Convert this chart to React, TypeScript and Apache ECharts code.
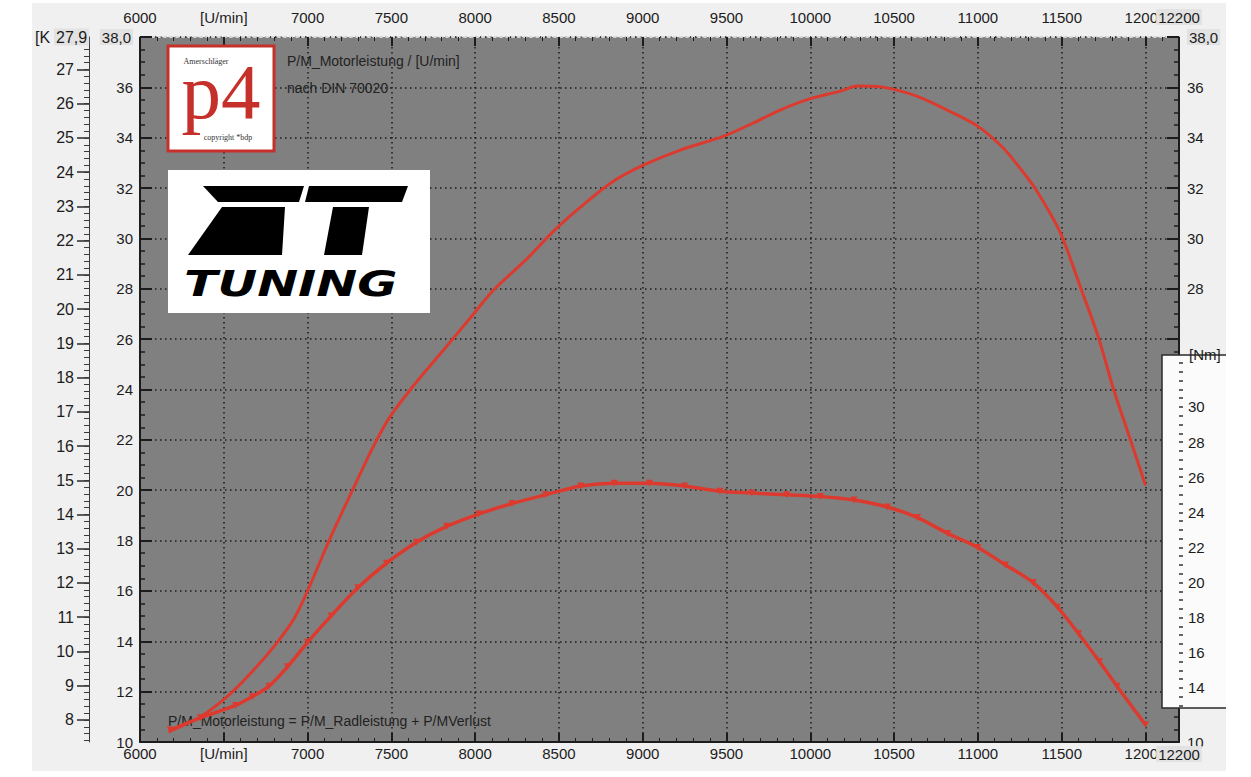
import React, { useEffect, useRef } from "react";
import * as echarts from "echarts";

// ---- data ----
const powerRpm = [6170, 6360, 6520, 6670, 6800, 6915, 7000, 7135, 7275, 7390, 7490, 7650, 7790, 7990, 8110, 8310, 8470, 8630, 8820, 9000, 9220, 9480, 9680, 9820, 10000, 10180, 10280, 10440, 10635, 10830, 11000, 11150, 11250, 11340, 11490, 11610, 11720, 11810, 11905, 12000];
const powerPS = [10.4, 11.0, 11.8, 12.8, 13.8, 14.85, 16.0, 18.1, 20.1, 21.7, 22.9, 24.3, 25.4, 27.0, 27.95, 29.2, 30.3, 31.25, 32.25, 32.9, 33.5, 34.05, 34.65, 35.1, 35.55, 35.85, 36.05, 36.0, 35.65, 35.05, 34.45, 33.6, 32.8, 32.0, 30.25, 28.1, 26.05, 24.0, 22.1, 20.2];

const torqueRpm = [6180, 6360, 6570, 6670, 6770, 6880, 7000, 7140, 7300, 7470, 7650, 7830, 8020, 8220, 8420, 8630, 8830, 9040, 9250, 9460, 9650, 9860, 10060, 10260, 10460, 10640, 10820, 11000, 11165, 11330, 11475, 11600, 11725, 11830, 12000];
const torqueNm = [11.6, 12.3, 13.0, 13.5, 14.1, 15.2, 16.6, 18.1, 19.7, 21.1, 22.3, 23.2, 23.9, 24.5, 25.0, 25.5, 25.66, 25.66, 25.5, 25.2, 25.1, 25.0, 24.9, 24.7, 24.3, 23.7, 22.8, 22.0, 21.0, 20.0, 18.6, 17.1, 15.5, 14.1, 11.9];

const xLabelValues = [6000, 6500, 7000, 7500, 8000, 8500, 9000, 9500, 10000, 10500, 11000, 11500, 12000];
const xEndLabel = [12200];
const psLeftLabels = [10, 12, 14, 16, 18, 20, 22, 24, 26, 28, 30, 32, 34, 36, 38];
const psRightLabels = [10, 28, 30, 32, 34, 36, 38];
const kwLabels = [8, 9, 10, 11, 12, 13, 14, 15, 16, 17, 18, 19, 20, 21, 22, 23, 24, 25, 26, 27];
const nmLabels = [14, 16, 18, 20, 22, 24, 26, 28, 30];

const X_MIN = 6000;
const X_MAX = 12200;
const PS_MIN = 10;
const PS_MAX = 38;
const KW_PER_PS = 0.7355;
const NM_MIN = 10.92;
const NM_MAX = 51.07;

const RED = "#dc3a2e";
const INK = "#1c1c1c";
const FONT = "Liberation Sans, Arial, sans-serif";

const range = (a: number, b: number, step: number) => {
  const out: number[] = [];
  for (let v = a; v <= b + 1e-9; v += step) out.push(Math.round(v * 1000) / 1000);
  return out;
};

const kwMinorTicks = range(7.4, 27.8, 0.2);
const nmTicks = range(13, 32.5, 0.5);

const rich = { m: { backgroundColor: "#e2e2e2", padding: [1, 2, 0, 2], fontSize: 15, color: INK, fontFamily: FONT } };

const xFormatter = (v: number) => (v === 6500 ? "[U/min]" : String(v));

function buildOption(): any {
  const labelBase = { color: INK, fontSize: 15, fontFamily: FONT, showMaxLabel: true, showMinLabel: true, hideOverlap: false };
  const xMain = {
    type: "value",
    min: X_MIN,
    max: X_MAX,
    interval: 500,
    axisTick: { inside: true, length: 9, lineStyle: { color: INK, width: 2 } },
    minorTick: { show: true, splitNumber: 5, length: 4, lineStyle: { color: INK, width: 1 } },
    axisLabel: { ...labelBase, customValues: xLabelValues, formatter: xFormatter },
  };
  const xEnd = {
    type: "value",
    min: X_MIN,
    max: X_MAX,
    offset: 0,
    axisLine: { show: false },
    axisTick: { show: false },
    splitLine: { show: false },
    axisLabel: { ...labelBase, customValues: xEndLabel, formatter: (v: number) => `{m|${v}}`, rich },
  };
  const maxKw = PS_MAX * KW_PER_PS;
  return {
    animation: false,
    backgroundColor: "#f0f0f0",
    grid: { left: 140, top: 37, width: 1039, height: 705, show: true, backgroundColor: "#808080", borderWidth: 0 },
    xAxis: [
      {
        ...xMain,
        position: "bottom",
        offset: 0,
        axisLine: { show: true, lineStyle: { color: INK, width: 2 } },
        splitLine: { show: true, lineStyle: { color: "#1a1a1a", width: 1.5, type: [1.5, 3.5] } },
        axisLabel: { ...xMain.axisLabel, margin: 4 },
      },
      {
        ...xMain,
        position: "top",
        offset: 0,
        axisLine: { show: true, lineStyle: { color: "#d8d8d8", width: 2, type: [2, 4] } },
        splitLine: { show: false },
        axisLabel: { ...xMain.axisLabel, margin: 12 },
      },
      { ...xEnd, position: "bottom", axisLabel: { ...xEnd.axisLabel, margin: 4 } },
      { ...xEnd, position: "top", axisLabel: { ...xEnd.axisLabel, margin: 12 } },
    ],
    yAxis: [
      {
        type: "value",
        position: "left",
        min: PS_MIN,
        max: PS_MAX,
        interval: 2,
        axisLine: { show: true, lineStyle: { color: INK, width: 2 } },
        axisTick: { inside: true, length: 12, lineStyle: { color: INK, width: 2 } },
        minorTick: { show: true, splitNumber: 4, length: 5, lineStyle: { color: INK, width: 1.5 } },
        splitLine: { show: true, lineStyle: { color: "#1a1a1a", width: 1.5, type: [1.5, 3.5] } },
        axisLabel: {
          ...labelBase,
          customValues: psLeftLabels,
          formatter: (v: number) => (v === 38 ? "{m|38,0}" : String(v)),
          margin: 7,
          rich,
        },
      },
      {
        type: "value",
        position: "left",
        offset: 51,
        min: PS_MIN * KW_PER_PS,
        max: maxKw,
        axisLine: { show: true, lineStyle: { color: "#3a3a3a", width: 1 } },
        axisTick: { show: true, customValues: kwLabels, length: 12, lineStyle: { color: "#2a2a2a", width: 1.5 } },
        splitLine: { show: false },
        axisLabel: { ...labelBase, customValues: kwLabels, margin: 15, fontSize: 16 },
      },
      {
        type: "value",
        position: "left",
        offset: 51,
        min: PS_MIN * KW_PER_PS,
        max: maxKw,
        axisLine: { show: false },
        axisTick: { show: true, customValues: kwMinorTicks, length: 5, lineStyle: { color: "#3a3a3a", width: 1 } },
        splitLine: { show: false },
        axisLabel: { show: false },
      },
      {
        type: "value",
        position: "right",
        offset: 0,
        min: PS_MIN,
        max: PS_MAX,
        interval: 2,
        axisLine: { show: true, lineStyle: { color: INK, width: 2 } },
        axisTick: { inside: true, length: 12, lineStyle: { color: INK, width: 2 } },
        minorTick: { show: true, splitNumber: 4, length: 5, lineStyle: { color: INK, width: 1.5 } },
        splitLine: { show: false },
        axisLabel: {
          ...labelBase,
          customValues: psRightLabels,
          formatter: (v: number) => (v === 38 ? "{m|38,0}" : String(v)),
          margin: 8,
          rich,
        },
      },
      {
        type: "value",
        position: "right",
        offset: 0,
        z: 10,
        min: NM_MIN,
        max: NM_MAX,
        axisLine: { show: false },
        axisTick: { show: true, customValues: nmTicks, length: 4, lineStyle: { color: "#333", width: 1.5 } },
        splitLine: { show: false },
        axisLabel: { ...labelBase, customValues: nmLabels, margin: 9 },
      },
    ],
    graphic: [
      // white page margins outside the light panel
      { type: "rect", z: 20, shape: { x: 0, y: 0, width: 32, height: 777 }, style: { fill: "#fff" } },
      { type: "rect", z: 20, shape: { x: 1226, y: 0, width: 25, height: 777 }, style: { fill: "#fff" } },
      { type: "rect", z: 20, shape: { x: 0, y: 0, width: 1251, height: 3 }, style: { fill: "#fff" } },
      { type: "rect", z: 20, shape: { x: 0, y: 771, width: 1251, height: 6 }, style: { fill: "#fff" } },
      { type: "text", z: 20, x: 35, y: 37, style: { text: "[K", fill: INK, font: `16px ${FONT}`, verticalAlign: "middle" } },
      { type: "text", z: 20, x: 54, y: 37, style: { text: (Math.floor(maxKw * 10) / 10).toFixed(1).replace(".", ","), fill: INK, font: `16px ${FONT}`, verticalAlign: "middle", backgroundColor: "#e2e2e2", padding: [1, 2, 0, 2] } },
      // Nm inset box
      { type: "rect", z: 5, shape: { x: 1162, y: 355, width: 64, height: 353 }, style: { fill: "#fbfbfb" } },
      { type: "polyline", z: 6, shape: { points: [[1226, 355], [1162, 355], [1162, 708], [1226, 708]] }, style: { stroke: "#2a2a2a", lineWidth: 1.5, fill: null } },
      { type: "text", z: 11, x: 1189, y: 354, style: { text: "[Nm]", fill: INK, font: `15px ${FONT}`, verticalAlign: "middle" } },
      // titles
      { type: "text", z: 5, x: 287, y: 61, style: { text: "P/M_Motorleistung / [U/min]", fill: "#222", font: `14px ${FONT}`, verticalAlign: "middle" } },
      { type: "text", z: 5, x: 287, y: 88, style: { text: "nach DIN 70020", fill: "#222", font: `14px ${FONT}`, verticalAlign: "middle" } },
      { type: "text", z: 1, x: 168, y: 721, style: { text: "P/M_Motorleistung = P/M_Radleistung + P/MVerlust", fill: "#222", font: `14px ${FONT}`, verticalAlign: "middle" } },
      // p4 logo
      { type: "rect", z: 5, shape: { x: 168, y: 46, width: 106, height: 105 }, style: { fill: "#fff", stroke: "#c6302a", lineWidth: 3 } },
      { type: "text", z: 6, x: 221, y: 131, style: { text: "p4", fill: "#c6302a", font: `79px Liberation Serif, serif`, align: "center", verticalAlign: "bottom" } },
      { type: "text", z: 7, x: 206, y: 61, style: { text: "Amerschläger", fill: "#333", font: `8px Liberation Serif, serif`, align: "center", verticalAlign: "middle" } },
      { type: "text", z: 7, x: 228, y: 137, style: { text: "copyright *bdp", fill: "#333", font: `8px Liberation Serif, serif`, align: "center", verticalAlign: "middle" } },
      // ZT tuning logo
      { type: "rect", z: 5, shape: { x: 168, y: 170, width: 262, height: 143 }, style: { fill: "#fff" } },
      { type: "polygon", z: 6, shape: { points: [[203, 186], [304, 186], [299, 202], [218, 202]] }, style: { fill: "#000" } },
      { type: "polygon", z: 6, shape: { points: [[222, 207], [285, 207], [282, 255], [188, 255]] }, style: { fill: "#000" } },
      { type: "polygon", z: 6, shape: { points: [[309, 186], [408, 186], [402, 202], [305, 202]] }, style: { fill: "#000" } },
      { type: "polygon", z: 6, shape: { points: [[333, 207], [369, 207], [362, 255], [324, 255]] }, style: { fill: "#000" } },
      { type: "text", z: 6, x: 184, y: 283, scaleX: 1.36, style: { text: "TUNING", fill: "#000", font: `italic 900 36px DejaVu Sans, sans-serif`, verticalAlign: "middle" } },
    ],
    series: [
      {
        type: "line",
        name: "P/M_Motorleistung",
        xAxisIndex: 0,
        yAxisIndex: 0,
        data: powerRpm.map((r, i) => [r, powerPS[i]]),
        showSymbol: false,
        smooth: 0.3,
        lineStyle: { color: RED, width: 3 },
        itemStyle: { color: RED },
      },
      {
        type: "line",
        name: "Drehmoment",
        xAxisIndex: 0,
        yAxisIndex: 4,
        data: torqueRpm.map((r, i) => [r, torqueNm[i]]),
        smooth: 0.3,
        symbol: "triangle",
        symbolRotate: 180,
        symbolSize: 7,
        lineStyle: { color: RED, width: 3.5 },
        itemStyle: { color: RED },
      },
    ],
  };
}

export default function App() {
  const ref = useRef<HTMLDivElement>(null);
  useEffect(() => {
    if (!ref.current) return;
    const chart = echarts.init(ref.current, null, { renderer: "svg" });
    chart.setOption(buildOption());
    return () => chart.dispose();
  }, []);
  return <div ref={ref} style={{ position: "absolute", left: 0, top: 0, width: 1251, height: 777 }} />;
}
